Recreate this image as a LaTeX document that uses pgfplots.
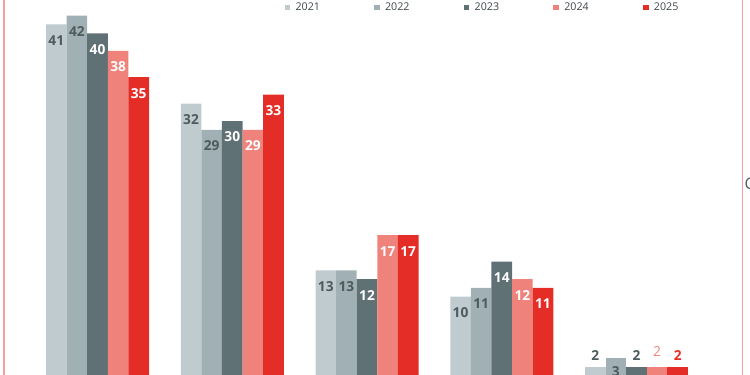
\documentclass[border=0pt]{standalone}
\usepackage{pgfplots}
\pgfplotsset{compat=1.18}
\usepackage{fontspec}
\setmainfont{Open Sans}
\definecolor{c21}{RGB}{191,203,207}
\definecolor{c22}{RGB}{160,176,180}
\definecolor{c23}{RGB}{95,113,117}
\definecolor{c24}{RGB}{240,130,124}
\definecolor{c25}{RGB}{229,45,39}
\definecolor{labdark}{RGB}{77,90,94}
\definecolor{legtext}{RGB}{60,70,74}
\definecolor{frame}{RGB}{240,160,160}
\begin{document}
\begin{tikzpicture}
\useasboundingbox (0,0) rectangle (562.5pt,281.25pt);
\clip (0,0) rectangle (562.5pt,281.25pt);
\pgfplotsset{
  lab/.style 2 args={nodes near coords,
    every node near coord/.append style={anchor=center, yshift=#1, text=#2,
      font=\bfseries\fontsize{10.3}{10.3}\selectfont}},
}
\begin{axis}[
  at={(0,0)}, anchor=south west, scale only axis,
  width=562.5pt, height=281.25pt,
  axis lines=none, xtick=\empty, ytick=\empty,
  xmin=-0.7236, xmax=4.8423, ymin=1.08, ymax=43.79,
  /pgf/number format/assume math mode=true,
  ybar, bar width=15.45pt,
  legend columns=5,
  legend image code/.code={\fill[#1] (0pt,-2.1pt) rectangle (4.2pt,2.1pt);},
  legend style={draw=none, fill=none, at={(0.3738,0.98)}, anchor=west,
    font=\fontsize{8}{8}\selectfont, text=legtext},
]
\addplot[fill=c21, draw=none, bar shift=-30.9pt, lab={-12pt}{labdark}] coordinates {(0,41) (1,32) (2,13) (3,10)};
\addlegendentry{\makebox[59pt][l]{\hspace{2pt}2021}}
\addplot[fill=c22, draw=none, bar shift=-15.45pt, lab={-12pt}{labdark}] coordinates {(0,42) (1,29) (2,13) (3,11)};
\addlegendentry{\makebox[59pt][l]{\hspace{2pt}2022}}
\addplot[fill=c23, draw=none, bar shift=0pt, lab={-12pt}{white}] coordinates {(0,40) (1,30) (2,12) (3,14)};
\addlegendentry{\makebox[59pt][l]{\hspace{2pt}2023}}
\addplot[fill=c24, draw=none, bar shift=15.45pt, lab={-12pt}{white}] coordinates {(0,38) (1,29) (2,17) (3,12)};
\addlegendentry{\makebox[59pt][l]{\hspace{2pt}2024}}
\addplot[fill=c25, draw=none, bar shift=30.9pt, lab={-12pt}{white}] coordinates {(0,35) (1,33) (2,17) (3,11)};
\addlegendentry{\hspace{2pt}2025}
% last group: small bars, labels above
\addplot[forget plot, fill=c21, draw=none, bar shift=-30.9pt, lab={8.5pt}{labdark}] coordinates {(4,2)};
\addplot[forget plot, fill=c22, draw=none, bar shift=-15.45pt, lab={-10pt}{labdark}] coordinates {(4,3)};
\addplot[forget plot, fill=c23, draw=none, bar shift=0pt, lab={8.5pt}{labdark}] coordinates {(4,2)};
\addplot[forget plot, fill=c24, draw=none, bar shift=15.45pt, nodes near coords,
  every node near coord/.append style={anchor=center, yshift=11.6pt, text=c24,
      font=\fontsize{10.3}{10.3}\selectfont}] coordinates {(4,2)};
\addplot[forget plot, fill=c25, draw=none, bar shift=30.9pt, lab={8.5pt}{c25}] coordinates {(4,2)};
\end{axis}
\draw[frame, line width=0.8pt] (3pt,0) -- (3pt,281.25pt);
\draw[frame, line width=0.8pt] (557pt,0) -- (557pt,281.25pt);
\node[anchor=west, inner sep=0pt, text=labdark, font=\fontsize{12}{12}\selectfont] at (558.3pt,143.25pt) {C};
\end{tikzpicture}
\end{document}
